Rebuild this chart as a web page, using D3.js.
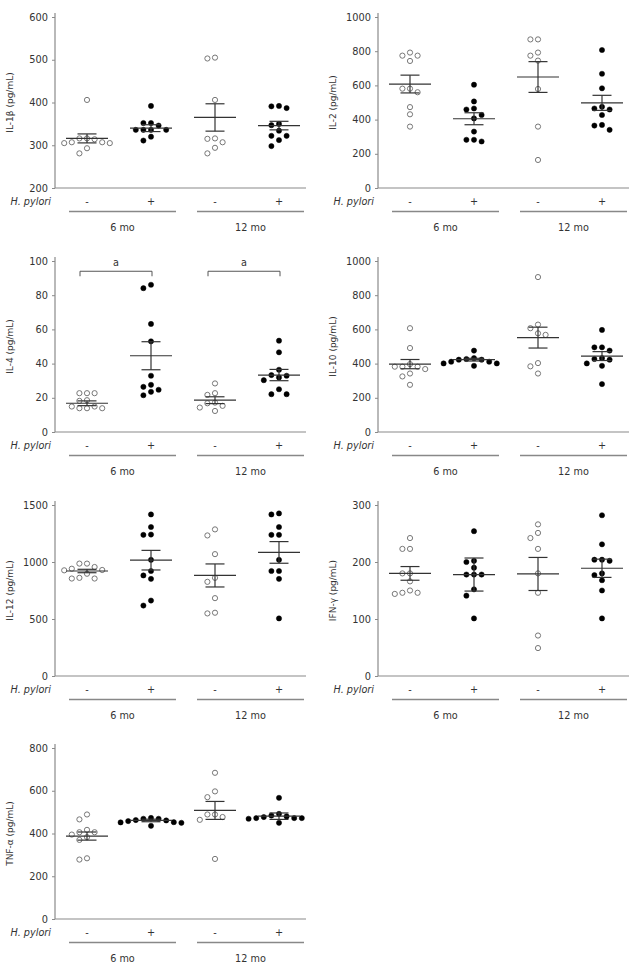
<!DOCTYPE html>
<html><head><meta charset="utf-8">
<script src="https://cdn.jsdelivr.net/npm/d3@7"></script>
<style>body{margin:0;background:#fff}text{font-family:"DejaVu Sans",Verdana,sans-serif;fill:#333}</style>
</head><body>
<svg id="c" width="640" height="965"></svg>
<script>
const groupLabels = ["-", "+", "-", "+"];
const groupFilled = [false, true, false, true];
const periodLabels = ["6 mo", "12 mo"];
const hpLabel = "H. pylori";

// IL-1β
const il1bValues = [
  [406, 307, 316, 316, 305, 307, 314, 305, 293, 281],
  [392, 352, 352, 336, 336, 336, 336, 346, 320, 311],
  [505, 503, 406, 315, 307, 316, 294, 281],
  [391, 387, 392, 347, 350, 322, 322, 312, 298, 334]];
const il1bMean = [316, 340, 365, 346];
const il1bErr = [10.5, 8, 32, 10];
const il1bTicks = [200, 300, 400, 500, 600];

// IL-2
const il2Values = [
  [774, 792, 774, 743, 581, 581, 560, 473, 431, 359],
  [604, 506, 465, 459, 427, 407, 330, 282, 272, 282],
  [869, 869, 774, 792, 745, 579, 359, 164],
  [807, 668, 583, 475, 459, 465, 427, 369, 365, 340]];
const il2Mean = [608, 405, 649, 498];
const il2Err = [52, 35, 90, 44];
const il2Ticks = [0, 200, 400, 600, 800, 1000];

// IL-4
const il4Values = [
  [22.7, 22.7, 22.7, 18.2, 18.6, 14.9, 13.9, 13.9, 13.9, 14.9],
  [86.1, 84.1, 63.2, 53.0, 32.9, 27.6, 26.4, 24.7, 23.5, 21.5],
  [28.4, 21.7, 22.7, 17.2, 15.3, 16.8, 14.3, 12.3],
  [53.4, 46.6, 36.4, 33.3, 31.9, 30.3, 32.9, 25.0, 22.1, 22.1]];
const il4Mean = [16.8, 44.6, 18.6, 33.3];
const il4Err = [1.4, 8.2, 2.0, 3.3];
const il4Ticks = [0, 20, 40, 60, 80, 100];
const il4SigFrom = [0, 2];
const il4SigTo = [1, 3];
const il4SigLabel = ["a", "a"];
const il4SigLevel = 94;

// IL-10
const il10Values = [
  [607, 491, 382, 382, 382, 397, 368, 342, 325, 276],
  [476, 432, 423, 423, 427, 411, 401, 401, 411, 387],
  [906, 628, 607, 568, 577, 403, 384, 342],
  [597, 495, 495, 476, 423, 427, 432, 401, 387, 280]];
const il10Mean = [397, 423, 552, 444];
const il10Err = [27, 8, 61, 26];
const il10Ticks = [0, 200, 400, 600, 800, 1000];

// IL-12
const il12Values = [
  [986, 956, 941, 986, 930, 927, 897, 861, 855, 855],
  [1417, 1307, 1241, 1238, 1019, 921, 882, 852, 662, 618],
  [1233, 1286, 1069, 826, 861, 683, 549, 555],
  [1426, 1417, 1307, 1238, 1238, 1019, 921, 921, 852, 505]];
const il12Mean = [921, 1016, 882, 1084];
const il12Err = [15, 86, 101, 95];
const il12Ticks = [0, 500, 1000, 1500];

// IFN-γ
const ifngValues = [
  [242, 223, 223, 180, 180, 166, 146, 144, 146, 150],
  [254, 202, 200, 178, 178, 178, 190, 152, 141, 101],
  [266, 251, 242, 223, 180, 146, 71, 49],
  [282, 231, 204, 202, 204, 180, 177, 168, 150, 101]];
const ifngMean = [180, 178, 179, 189];
const ifngErr = [12, 29, 29, 16];
const ifngTicks = [0, 100, 200, 300];

// TNF-α
const tnfaValues = [
  [489, 466, 406, 417, 395, 406, 383, 370, 278, 284],
  [458, 469, 469, 473, 450, 452, 461, 453, 436, 463],
  [684, 597, 570, 489, 477, 464, 489, 281],
  [567, 492, 477, 484, 472, 472, 469, 472, 450, 480]];
const tnfaMean = [388, 461, 508, 481];
const tnfaErr = [19, 6, 42, 15];
const tnfaTicks = [0, 200, 400, 600, 800];

const panels = [
  {label: "IL-1β (pg/mL)", values: il1bValues, mean: il1bMean, err: il1bErr, ticks: il1bTicks, col: 0, row: 0},
  {label: "IL-2 (pg/mL)", values: il2Values, mean: il2Mean, err: il2Err, ticks: il2Ticks, col: 1, row: 0},
  {label: "IL-4 (pg/mL)", values: il4Values, mean: il4Mean, err: il4Err, ticks: il4Ticks, col: 0, row: 1, sig: true},
  {label: "IL-10 (pg/mL)", values: il10Values, mean: il10Mean, err: il10Err, ticks: il10Ticks, col: 1, row: 1},
  {label: "IL-12 (pg/mL)", values: il12Values, mean: il12Mean, err: il12Err, ticks: il12Ticks, col: 0, row: 2},
  {label: "IFN-γ (pg/mL)", values: ifngValues, mean: ifngMean, err: ifngErr, ticks: ifngTicks, col: 1, row: 2},
  {label: "TNF-α (pg/mL)", values: tnfaValues, mean: tnfaMean, err: tnfaErr, ticks: tnfaTicks, col: 0, row: 3}
];

const svg = d3.select("#c");
const colX = [55, 378];
const rowTop = [17, 261, 505, 748];
const W = 251, H = 171;
const axisColor = "#8a8a8a";

panels.forEach(p => {
  const g = svg.append("g").attr("transform", `translate(${colX[p.col]},${rowTop[p.row]})`);
  const y = d3.scaleLinear().domain([p.ticks[0], p.ticks[p.ticks.length - 1]]).range([H, 0]);
  const x = d3.scalePoint().domain([0, 1, 2, 3]).range([0, 256]).padding(0.5);

  const ax = g.append("g").call(d3.axisLeft(y).tickValues(p.ticks).tickSize(3).tickPadding(4).tickFormat(d3.format("d")));
  ax.select(".domain").remove();
  ax.selectAll("line").attr("stroke", axisColor);
  ax.selectAll("text").style("font-size", "9.8px").attr("fill", "#333");
  g.append("line").attr("x1", 0).attr("x2", 0).attr("y1", -4).attr("y2", H).attr("stroke", axisColor).attr("stroke-width", 1.2);
  g.append("line").attr("x1", 0).attr("x2", W).attr("y1", H).attr("y2", H).attr("stroke", axisColor).attr("stroke-width", 1.2);

  g.append("text").attr("transform", `translate(-42,${H / 2}) rotate(-90)`).attr("text-anchor", "middle")
    .style("font-size", "9px").text(p.label);

  g.append("text").attr("x", -4).attr("y", H + 17).attr("text-anchor", "end")
    .style("font-size", "9.7px").style("font-style", "italic").text(hpLabel);
  groupLabels.forEach((t, i) => {
    g.append("text").attr("x", x(i)).attr("y", H + 17).attr("text-anchor", "middle").style("font-size", "9.7px").text(t);
  });
  periodLabels.forEach((t, k) => {
    const a = x(2 * k) - 18, b = x(2 * k + 1) + 25;
    g.append("line").attr("x1", a).attr("x2", b).attr("y1", H + 23.5).attr("y2", H + 23.5).attr("stroke", "#888").attr("stroke-width", 1.3);
    g.append("text").attr("x", (a + b) / 2).attr("y", H + 43).attr("text-anchor", "middle").style("font-size", "9.7px").text(t);
  });

  // points with simple beeswarm layout
  const step = 7.6, r = 2.6;
  p.values.forEach((vals, gi) => {
    const placed = [];
    const sorted = vals.slice().sort((a, b) => b - a);
    sorted.forEach(v => {
      const py = y(v);
      let off = 0;
      const cands = [0];
      for (let j = 1; j < 8; j++) { cands.push(-j, j); }
      for (const c of cands) {
        const px = c * step;
        if (placed.every(q => Math.hypot(q[0] - px, q[1] - py) >= 6.8)) { off = px; break; }
      }
      placed.push([off, py]);
    });
    g.selectAll(null).data(placed).join("circle")
      .attr("cx", d => x(gi) + d[0]).attr("cy", d => d[1]).attr("r", r)
      .attr("fill", groupFilled[gi] ? "#000" : "#fff")
      .attr("stroke", groupFilled[gi] ? "#000" : "#777").attr("stroke-width", groupFilled[gi] ? 0.5 : 1);

    const m = p.mean[gi], e = p.err[gi], cx = x(gi);
    const lc = "#333";
    g.append("line").attr("x1", cx - 21).attr("x2", cx + 21).attr("y1", y(m)).attr("y2", y(m)).attr("stroke", lc).attr("stroke-width", 1.2);
    g.append("line").attr("x1", cx).attr("x2", cx).attr("y1", y(m - e)).attr("y2", y(m + e)).attr("stroke", lc).attr("stroke-width", 1.2);
    [m - e, m + e].forEach(v => {
      g.append("line").attr("x1", cx - 9.5).attr("x2", cx + 9.5).attr("y1", y(v)).attr("y2", y(v)).attr("stroke", lc).attr("stroke-width", 1.2);
    });
  });

  if (p.sig) {
    il4SigFrom.forEach((f, k) => {
      const a = x(f) - 7, b = x(il4SigTo[k]) + 1, yy = y(il4SigLevel);
      g.append("path").attr("d", `M${a},${yy + 5}V${yy}H${b}V${yy + 5}`).attr("fill", "none").attr("stroke", "#555").attr("stroke-width", 1);
      g.append("text").attr("x", (a + b) / 2).attr("y", yy - 5).attr("text-anchor", "middle").style("font-size", "9.7px").text(il4SigLabel[k]);
    });
  }
});
</script>
</body></html>
